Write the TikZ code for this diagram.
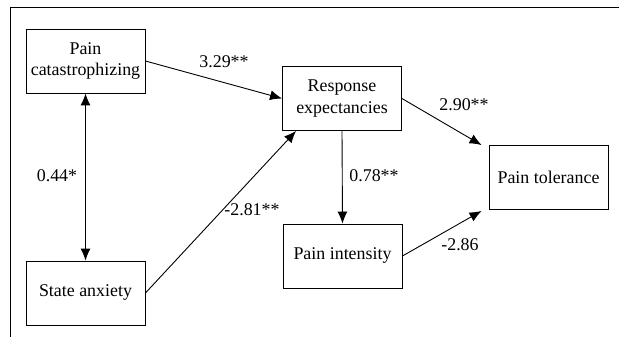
\documentclass[tikz,border=0pt]{standalone}
\usepackage{fontspec}
\setmainfont{Liberation Serif}
\usetikzlibrary{arrows.meta}
\tikzset{
  var/.style={draw,line width=0.9pt,minimum width=119pt,minimum height=64pt,inner sep=0pt,align=center},
  path/.style={line width=0.9pt,-{Latex[length=12pt,width=10pt]}},
  corr/.style={line width=0.9pt,{Latex[length=12pt,width=10pt]}-{Latex[length=12pt,width=10pt]}},
  coef/.style={inner sep=0pt}
}
\begin{document}
\begin{tikzpicture}[x=1pt,y=-1pt,font=\fontsize{17.9}{21.5}\selectfont]
        \useasboundingbox (0,0) rectangle (619,337);
        \draw[line width=0.9pt] (10,337) -- (10,7) -- (619,7);
        % variables
        \node[var] (pc) at (85.5,61) {Pain\\catastrophizing};
        \node[var] (sa) at (85.5,293) {State anxiety};
        \node[var] (re) at (342,98.5) {Response\\expectancies};
        \node[var] (pi) at (342.5,256) {Pain intensity};
        \node[var] (pt) at (548.5,177.5) {Pain tolerance};
        % paths
        \draw[path] (pc.east) -- (re.west);
        \draw[corr] (pc.south) -- (sa.north);
        \draw[path] (sa.east) -- ([xshift=14pt]re.south west);
        \draw[path] (re.south) -- (pi.north);
        \draw[path] (re.east) -- ([xshift=-7pt]pt.north west);
        \draw[path] (pi.east) -- ([xshift=-7pt,yshift=-1pt]pt.south west);
        % coefficients
        \node[coef] (c1) at (224,62) {3.29**};
        \node[coef] (c2) at (57,176) {0.44*};
        \node[coef] (c3) at (252,210) {-2.81**};
        \node[coef] (c4) at (374,176) {0.78**};
        \node[coef] (c5) at (464,105) {2.90**};
        \node[coef] (c6) at (460,245) {-2.86};
\end{tikzpicture}
\end{document}
